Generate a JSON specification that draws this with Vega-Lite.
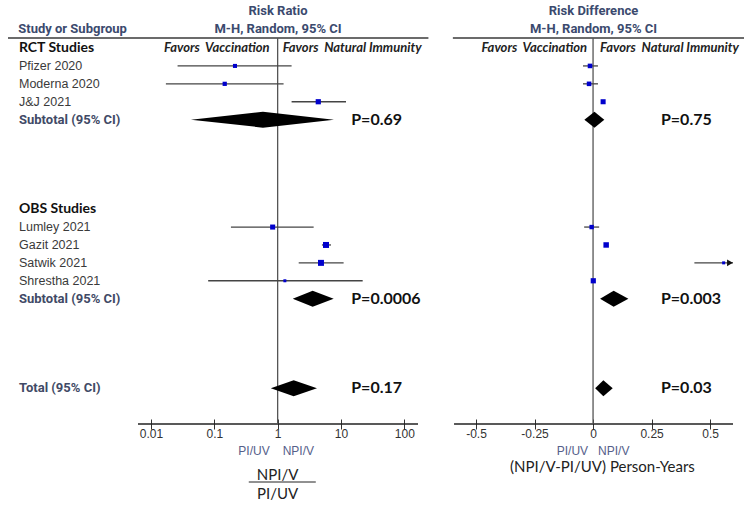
{
  "$schema": "https://vega.github.io/schema/vega-lite/v6.json",
  "padding": {"left": 7, "top": 5, "right": 0, "bottom": 0},
  "background": "white",
  "config": {"view": {"stroke": null}, "font": "Liberation Sans"},
  "spacing": 0,
  "bounds": "flush",
  "datasets": {
    "rows": [
      {"row": 0, "label": "RCT Studies", "kind": "group"},
      {"row": 1, "label": "Pfizer 2020", "kind": "study", "rr": 0.212, "rrlo": 0.0263, "rrhi": 1.66, "rrw": 11, "rd": -0.013, "rdlo": -0.043, "rdhi": 0.021, "rdw": 14},
      {"row": 2, "label": "Moderna 2020", "kind": "study", "rr": 0.146, "rrlo": 0.0172, "rrhi": 1.24, "rrw": 12, "rd": -0.017, "rdlo": -0.043, "rdhi": 0.021, "rdw": 14},
      {"row": 3, "label": "J&J 2021", "kind": "study", "rr": 4.38, "rrlo": 1.66, "rrhi": 12.0, "rrw": 18, "rd": 0.043, "rdlo": 0.036, "rdhi": 0.05, "rdw": 17},
      {"row": 4, "label": "Subtotal (95% CI)", "kind": "sub", "rr": 0.586, "rrlo": 0.0427, "rrhi": 7.75, "rd": 0.006, "rdlo": -0.037, "rdhi": 0.048, "prr": "P=0.69", "prd": "P=0.75"},
      {"row": 9, "label": "OBS Studies", "kind": "group"},
      {"row": 10, "label": "Lumley 2021", "kind": "study", "rr": 0.834, "rrlo": 0.183, "rrhi": 3.7, "rrw": 17, "rd": -0.006, "rdlo": -0.038, "rdhi": 0.026, "rdw": 13},
      {"row": 11, "label": "Gazit 2021", "kind": "study", "rr": 5.8, "rrlo": 5.0, "rrhi": 6.95, "rrw": 24, "rd": 0.056, "rdlo": 0.052, "rdhi": 0.06, "rdw": 20},
      {"row": 12, "label": "Satwik 2021", "kind": "study", "rr": 4.83, "rrlo": 2.15, "rrhi": 11.0, "rrw": 24, "rd": 0.558, "rdlo": 0.433, "rdhi": 0.7, "rdw": 6},
      {"row": 13, "label": "Shrestha 2021", "kind": "study", "rr": 1.3, "rrlo": 0.08, "rrhi": 22.0, "rrw": 6, "rd": 0.001, "rdlo": -0.003, "rdhi": 0.005, "rdw": 18},
      {"row": 14, "label": "Subtotal (95% CI)", "kind": "sub", "rr": 3.57, "rrlo": 1.73, "rrhi": 7.67, "rd": 0.088, "rdlo": 0.03, "rdhi": 0.151, "prr": "P=0.0006", "prd": "P=0.003"},
      {"row": 19, "label": "Total (95% CI)", "kind": "total", "rr": 1.79, "rrlo": 0.78, "rrhi": 4.18, "rd": 0.044, "rdlo": 0.009, "rdhi": 0.084, "prr": "P=0.17", "prd": "P=0.03"}
    ]
  },
  "hconcat": [
    {
      "width": 130,
      "height": 386,
      "title": {"text": "Study or Subgroup", "anchor": "start", "dx": 11, "offset": 1, "font": "Roboto", "fontSize": 13, "fontWeight": "bold", "color": "#3b4a6e"},
      "data": {"name": "rows"},
      "layer": [
        {
          "data": {"values": [{}]},
          "mark": {"type": "rule", "color": "#3a3a3a", "strokeWidth": 1.5},
          "encoding": {"y": {"datum": -0.56, "type": "quantitative", "scale": {"domain": [-0.56, 21], "reverse": true, "nice": false, "zero": false}, "axis": null}}
        },
        {
          "transform": [{"filter": "datum.kind == 'group'"}],
          "mark": {"type": "text", "align": "left", "baseline": "middle", "dx": 11, "font": "Lato", "fontSize": 14, "fontWeight": "bold", "color": "#111111"},
          "encoding": {
            "x": {"datum": 0, "type": "quantitative", "scale": {"domain": [0, 1], "nice": false, "zero": false}, "axis": null},
            "y": {"field": "row", "type": "quantitative", "scale": {"domain": [-0.56, 21], "reverse": true, "nice": false, "zero": false}, "axis": null},
            "text": {"field": "label"}
          }
        },
        {
          "transform": [{"filter": "datum.kind == 'study'"}],
          "mark": {"type": "text", "align": "left", "baseline": "middle", "dx": 11, "font": "Liberation Sans", "fontSize": 12.5, "color": "#3a3a3a"},
          "encoding": {
            "x": {"datum": 0, "type": "quantitative"},
            "y": {"field": "row", "type": "quantitative"},
            "text": {"field": "label"}
          }
        },
        {
          "transform": [{"filter": "datum.kind == 'sub' || datum.kind == 'total'"}],
          "mark": {"type": "text", "align": "left", "baseline": "middle", "dx": 11, "font": "Roboto", "fontSize": 13, "fontWeight": "bold", "color": "#414a66"},
          "encoding": {
            "x": {"datum": 0, "type": "quantitative"},
            "y": {"field": "row", "type": "quantitative"},
            "text": {"field": "label"}
          }
        }
      ]
    },
    {
      "width": 280,
      "height": 386,
      "title": {"text": ["Risk Ratio", "M-H, Random, 95% CI"], "anchor": "middle", "offset": 1, "lineHeight": 18, "font": "Roboto", "fontSize": 13, "fontWeight": "bold", "color": "#3b4a6e"},
      "data": {"name": "rows"},
      "layer": [
        {
          "data": {"values": [{}]},
          "mark": {"type": "rule", "color": "#3a3a3a", "strokeWidth": 1.5},
          "encoding": {
            "x": {"datum": 0.00624, "type": "quantitative", "scale": {"type": "log", "domain": [0.00624, 164.4], "nice": false},
              "axis": {"values": [0.01, 0.1, 1, 10, 100], "labelExpr": "'' + datum.value", "domain": false, "grid": false, "tickSize": 10, "offset": -5, "tickColor": "#333333", "labelColor": "#333333", "labelFont": "Liberation Sans", "labelFontSize": 12, "labelPadding": -1, "title": null}},
            "x2": {"datum": 240},
            "y": {"datum": -0.56, "type": "quantitative", "scale": {"domain": [-0.56, 21], "reverse": true, "nice": false, "zero": false}, "axis": null}
          }
        },
        {
          "data": {"values": [{}]},
          "mark": {"type": "rule", "color": "#222222", "strokeWidth": 1.3},
          "encoding": {"y": {"datum": 21, "type": "quantitative"}}
        },
        {
          "data": {"values": [{}]},
          "mark": {"type": "rule", "color": "#555555", "strokeWidth": 1.3},
          "encoding": {"x": {"datum": 1, "type": "quantitative"}}
        },
        {
          "transform": [{"filter": "datum.kind == 'study'"}],
          "mark": {"type": "rule", "color": "#444444", "strokeWidth": 1.3},
          "encoding": {
            "x": {"field": "rrlo", "type": "quantitative"},
            "x2": {"field": "rrhi"},
            "y": {"field": "row", "type": "quantitative"}
          }
        },
        {
          "transform": [{"filter": "datum.kind == 'study'"}],
          "mark": {"type": "point", "shape": "square", "filled": true, "color": "#0000cc", "opacity": 1},
          "encoding": {
            "x": {"field": "rr", "type": "quantitative"},
            "y": {"field": "row", "type": "quantitative"},
            "size": {"field": "rrw", "type": "quantitative", "scale": {"domain": [0, 30], "range": [0, 45], "zero": true}, "legend": null}
          }
        },
        {
          "transform": [{"filter": "datum.kind == 'sub' || datum.kind == 'total'"}, {"fold": ["rrlo", "rr", "rrhi"], "as": ["k", "v"]}],
          "mark": {"type": "area", "orient": "vertical", "color": "#000000", "yOffset": {"expr": "datum.k == 'rr' ? -8 : 0"}, "y2Offset": {"expr": "datum.k == 'rr' ? 8 : 0"}},
          "encoding": {
            "x": {"field": "v", "type": "quantitative"},
            "y": {"field": "row", "type": "quantitative", "stack": null},
            "y2": {"field": "row"},
            "detail": {"field": "row", "type": "nominal"}
          }
        },
        {
          "transform": [{"filter": "datum.prr"}],
          "mark": {"type": "text", "align": "left", "baseline": "middle", "font": "Lato", "fontSize": 16, "fontWeight": "bold", "color": "#111111"},
          "encoding": {
            "x": {"datum": 14.5, "type": "quantitative"},
            "y": {"field": "row", "type": "quantitative"},
            "text": {"field": "prr"}
          }
        },
        {
          "data": {"values": [{}]},
          "mark": {"type": "text", "align": "right", "baseline": "middle", "dx": -8, "font": "Lato", "fontSize": 13, "fontWeight": "bold", "fontStyle": "italic", "color": "#222222", "text": "Favors\u00a0 Vaccination"},
          "encoding": {"x": {"datum": 1, "type": "quantitative"}, "y": {"datum": 0, "type": "quantitative"}}
        },
        {
          "data": {"values": [{}]},
          "mark": {"type": "text", "align": "left", "baseline": "middle", "dx": 5, "font": "Lato", "fontSize": 13, "fontWeight": "bold", "fontStyle": "italic", "color": "#222222", "text": "Favors\u00a0 Natural Immunity"},
          "encoding": {"x": {"datum": 1, "type": "quantitative"}, "y": {"datum": 0, "type": "quantitative"}}
        },
        {
          "data": {"values": [{}]},
          "mark": {"type": "text", "align": "right", "baseline": "middle", "dx": -8, "font": "Liberation Sans", "fontSize": 12, "color": "#55608a", "text": "PI/UV"},
          "encoding": {"x": {"datum": 1, "type": "quantitative"}, "y": {"datum": 22.5, "type": "quantitative"}}
        },
        {
          "data": {"values": [{}]},
          "mark": {"type": "text", "align": "left", "baseline": "middle", "dx": 5, "font": "Liberation Sans", "fontSize": 12, "color": "#55608a", "text": "NPI/V"},
          "encoding": {"x": {"datum": 1, "type": "quantitative"}, "y": {"datum": 22.5, "type": "quantitative"}}
        },
        {
          "data": {"values": [{}]},
          "mark": {"type": "text", "align": "center", "baseline": "middle", "font": "Lato", "fontSize": 15, "color": "#222222", "text": "NPI/V"},
          "encoding": {"x": {"datum": 1, "type": "quantitative"}, "y": {"datum": 23.85, "type": "quantitative"}}
        },
        {
          "data": {"values": [{}]},
          "mark": {"type": "rule", "color": "#222222", "strokeWidth": 1},
          "encoding": {"x": {"datum": 0.35, "type": "quantitative"}, "x2": {"datum": 4.0}, "y": {"datum": 24.24, "type": "quantitative"}}
        },
        {
          "data": {"values": [{}]},
          "mark": {"type": "text", "align": "center", "baseline": "middle", "font": "Lato", "fontSize": 15, "color": "#222222", "text": "PI/UV"},
          "encoding": {"x": {"datum": 1, "type": "quantitative"}, "y": {"datum": 24.91, "type": "quantitative"}}
        }
      ]
    },
    {
      "width": 315,
      "height": 386,
      "title": {"text": ["Risk Difference", "M-H, Random, 95% CI"], "anchor": "middle", "dx": 18, "offset": 1, "lineHeight": 18, "font": "Roboto", "fontSize": 13, "fontWeight": "bold", "color": "#3b4a6e"},
      "data": {"name": "rows"},
      "layer": [
        {
          "data": {"values": [{}]},
          "mark": {"type": "rule", "color": "#3a3a3a", "strokeWidth": 1.5},
          "encoding": {
            "x": {"datum": -0.599, "type": "quantitative", "scale": {"domain": [-0.748, 0.598], "nice": false, "zero": false},
              "axis": {"values": [-0.5, -0.25, 0, 0.25, 0.5], "labelExpr": "'' + datum.value", "domain": false, "grid": false, "tickSize": 10, "offset": -5, "tickColor": "#333333", "labelColor": "#333333", "labelFont": "Liberation Sans", "labelFontSize": 12, "labelPadding": -1, "title": null}},
            "x2": {"datum": 0.645},
            "y": {"datum": -0.56, "type": "quantitative", "scale": {"domain": [-0.56, 21], "reverse": true, "nice": false, "zero": false}, "axis": null}
          }
        },
        {
          "data": {"values": [{}]},
          "mark": {"type": "rule", "color": "#222222", "strokeWidth": 1.3},
          "encoding": {"x": {"datum": -0.594, "type": "quantitative"}, "x2": {"datum": 0.598}, "y": {"datum": 21, "type": "quantitative"}}
        },
        {
          "data": {"values": [{}]},
          "mark": {"type": "rule", "color": "#555555", "strokeWidth": 1.3},
          "encoding": {"x": {"datum": 0, "type": "quantitative"}}
        },
        {
          "transform": [{"filter": "datum.kind == 'study'"}],
          "mark": {"type": "rule", "color": "#444444", "strokeWidth": 1.3, "clip": true},
          "encoding": {
            "x": {"field": "rdlo", "type": "quantitative"},
            "x2": {"field": "rdhi"},
            "y": {"field": "row", "type": "quantitative"}
          }
        },
        {
          "transform": [{"filter": "datum.kind == 'study' && datum.rdhi > 0.598"}],
          "mark": {"type": "point", "shape": "triangle-right", "filled": true, "color": "#111111", "opacity": 1, "size": 45},
          "encoding": {
            "x": {"datum": 0.585, "type": "quantitative"},
            "y": {"field": "row", "type": "quantitative"}
          }
        },
        {
          "transform": [{"filter": "datum.kind == 'study'"}],
          "mark": {"type": "point", "shape": "square", "filled": true, "color": "#0000cc", "opacity": 1},
          "encoding": {
            "x": {"field": "rd", "type": "quantitative"},
            "y": {"field": "row", "type": "quantitative"},
            "size": {"field": "rdw", "type": "quantitative", "scale": {"domain": [0, 30], "range": [0, 45], "zero": true}, "legend": null}
          }
        },
        {
          "transform": [{"filter": "datum.kind == 'sub' || datum.kind == 'total'"}, {"fold": ["rdlo", "rd", "rdhi"], "as": ["k", "v"]}],
          "mark": {"type": "area", "orient": "vertical", "color": "#000000", "yOffset": {"expr": "datum.k == 'rd' ? -8 : 0"}, "y2Offset": {"expr": "datum.k == 'rd' ? 8 : 0"}},
          "encoding": {
            "x": {"field": "v", "type": "quantitative"},
            "y": {"field": "row", "type": "quantitative", "stack": null},
            "y2": {"field": "row"},
            "detail": {"field": "row", "type": "nominal"}
          }
        },
        {
          "transform": [{"filter": "datum.prd"}],
          "mark": {"type": "text", "align": "left", "baseline": "middle", "font": "Lato", "fontSize": 16, "fontWeight": "bold", "color": "#111111"},
          "encoding": {
            "x": {"datum": 0.29, "type": "quantitative"},
            "y": {"field": "row", "type": "quantitative"},
            "text": {"field": "prd"}
          }
        },
        {
          "data": {"values": [{}]},
          "mark": {"type": "text", "align": "right", "baseline": "middle", "dx": -6, "font": "Lato", "fontSize": 13, "fontWeight": "bold", "fontStyle": "italic", "color": "#222222", "text": "Favors\u00a0 Vaccination"},
          "encoding": {"x": {"datum": 0, "type": "quantitative"}, "y": {"datum": 0, "type": "quantitative"}}
        },
        {
          "data": {"values": [{}]},
          "mark": {"type": "text", "align": "left", "baseline": "middle", "dx": 7, "font": "Lato", "fontSize": 13, "fontWeight": "bold", "fontStyle": "italic", "color": "#222222", "text": "Favors\u00a0 Natural Immunity"},
          "encoding": {"x": {"datum": 0, "type": "quantitative"}, "y": {"datum": 0, "type": "quantitative"}}
        },
        {
          "data": {"values": [{}]},
          "mark": {"type": "text", "align": "right", "baseline": "middle", "dx": -5, "font": "Liberation Sans", "fontSize": 12, "color": "#55608a", "text": "PI/UV"},
          "encoding": {"x": {"datum": 0, "type": "quantitative"}, "y": {"datum": 22.5, "type": "quantitative"}}
        },
        {
          "data": {"values": [{}]},
          "mark": {"type": "text", "align": "left", "baseline": "middle", "dx": 5, "font": "Liberation Sans", "fontSize": 12, "color": "#55608a", "text": "NPI/V"},
          "encoding": {"x": {"datum": 0, "type": "quantitative"}, "y": {"datum": 22.5, "type": "quantitative"}}
        },
        {
          "data": {"values": [{}]},
          "mark": {"type": "text", "align": "center", "baseline": "middle", "font": "Lato", "fontSize": 15, "color": "#222222", "text": "(NPI/V-PI/UV) Person-Years"},
          "encoding": {"x": {"datum": 0.04, "type": "quantitative"}, "y": {"datum": 23.4, "type": "quantitative"}}
        }
      ]
    }
  ]
}
